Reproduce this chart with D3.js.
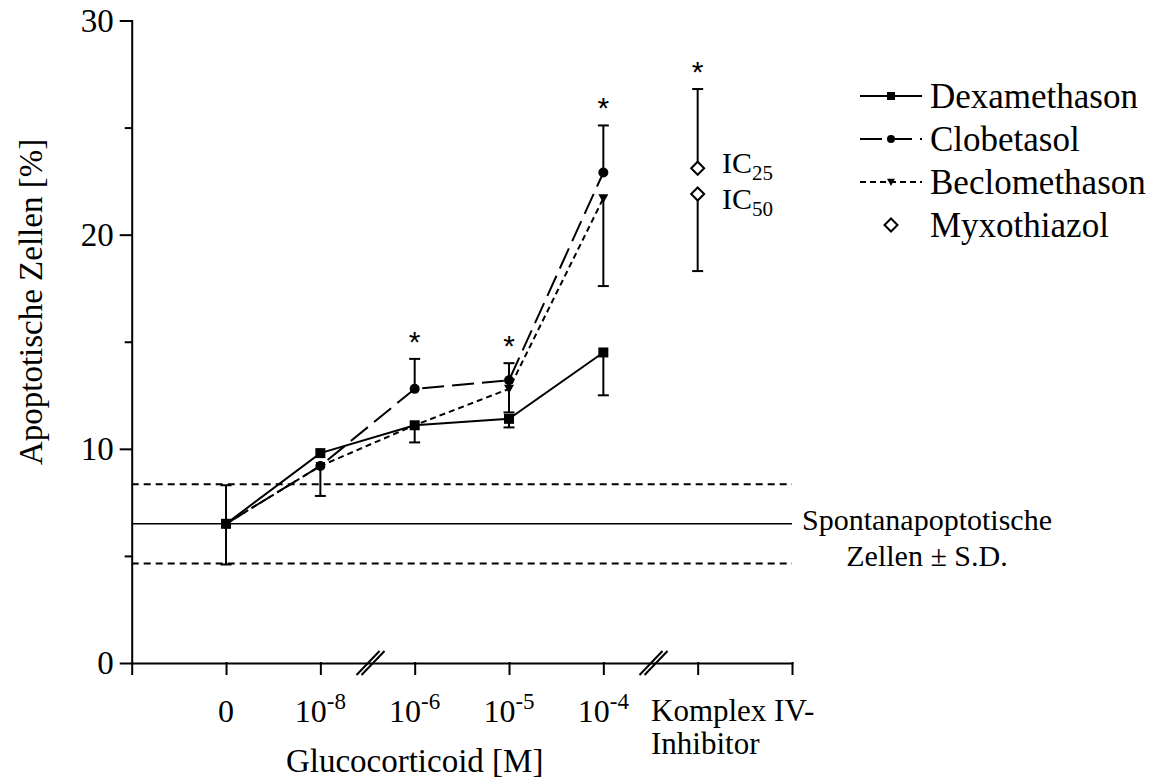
<!DOCTYPE html>
<html>
<head>
<meta charset="utf-8">
<script src="https://cdn.jsdelivr.net/npm/d3@7"></script>
<style>
  body { margin: 0; background: #fff; }
  text { font-family: "Liberation Serif", "Times New Roman", serif; fill: #000; }
</style>
</head>
<body>
<script>
// dose categories (x) and exponent labels
const doseBase = ["0", "10", "10", "10", "10"];
const doseExp = ["", "-8", "-6", "-5", "-4"];

// mean values, % apoptotic cells
const dexa = [6.5, 9.8, 11.1, 11.4, 14.5];
const clob = [6.5, 9.2, 12.8, 13.2, 22.9];
const beclo = [6.5, 9.2, 11.1, 12.8, 21.7];

// error bar ends (null = not drawn)
const dexaLow = [4.6, null, 10.3, 11.0, 12.5];
const dexaHigh = [8.3, null, null, null, null];
const clobHigh = [null, null, 14.2, 14.0, 25.1];
const becloLow = [null, 7.8, null, 11.7, 17.6];

// Myxothiazol (Komplex IV-Inhibitor)
const myxoLabels = ["25", "50"];
const myxoValues = [23.1, 21.9];
const myxoEnds = [26.8, 18.3];

// spontaneous apoptosis +- SD
const spont = 6.5;
const spontSD = 1.85;

// which dose indexes get a star (plus the inhibitor)
const starDoses = [2, 3, 4];

const yTicks = [0, 10, 20, 30];
const yMinor = [5, 15, 25];

const svg = d3.select("body").append("svg")
  .attr("width", 1157)
  .attr("height", 780);

const y = d3.scaleLinear().domain([0, 30]).range([663, 20.5]);
// slot 0 = axis start, 1..5 doses, 6 inhibitor, 7 axis end
const x = d3.scaleLinear().domain([0, 7]).range([131.7, 792]);

// axes
const yAxis = svg.append("g")
  .attr("transform", "translate(" + x(0) + ",0)")
  .call(d3.axisLeft(y).tickValues(yTicks).tickSize(11).tickSizeOuter(0).tickPadding(7));
svg.append("g")
  .attr("transform", "translate(" + x(0) + ",0)")
  .call(d3.axisLeft(y).tickValues(yMinor).tickSize(6).tickSizeOuter(0).tickFormat(""))
  .select(".domain").remove();
const xAxis = svg.append("g")
  .attr("transform", "translate(0," + y(0) + ")")
  .call(d3.axisBottom(x).tickValues(d3.range(0, 8)).tickSize(11).tickSizeOuter(0).tickFormat(""));

svg.selectAll(".domain, .tick line")
  .attr("stroke", "#000")
  .attr("stroke-width", 2)
  .attr("stroke-linecap", "square");
yAxis.selectAll(".tick text")
  .style("font-family", "Liberation Serif")
  .style("font-size", "33px");

// axis breaks
[2.5, 5.5].forEach(function(b) {
  const cx = x(b) + 3, cy = y(0);
  [-2.5, 2.5].forEach(function(dx) {
    svg.append("line")
      .attr("x1", cx + dx - 11.5).attr("y1", cy + 12)
      .attr("x2", cx + dx + 11.5).attr("y2", cy - 12)
      .attr("stroke", "#000").attr("stroke-width", 2);
  });
});

// x tick labels
doseBase.forEach(function(b, i) {
  const t = svg.append("text")
    .attr("x", x(i + 1))
    .attr("y", 722)
    .attr("text-anchor", "middle")
    .style("font-size", "32px");
  t.append("tspan").text(b);
  if (doseExp[i]) {
    t.append("tspan").attr("dy", -13).style("font-size", "23px").text(doseExp[i]);
  }
});
svg.append("text").attr("x", 651).attr("y", 721).style("font-size", "31px").text("Komplex IV-");
svg.append("text").attr("x", 651).attr("y", 754).style("font-size", "31px").text("Inhibitor");

// axis titles
svg.append("text")
  .attr("x", (x(1) + x(5)) / 2)
  .attr("y", 772)
  .attr("text-anchor", "middle")
  .style("font-size", "33px")
  .text("Glucocorticoid [M]");
svg.append("text")
  .attr("transform", "translate(42," + 302 + ") rotate(-90)")
  .attr("text-anchor", "middle")
  .style("font-size", "33px")
  .text("Apoptotische Zellen [%]");

// spontaneous apoptosis lines
svg.append("line")
  .attr("x1", x(0)).attr("x2", x(7))
  .attr("y1", y(spont)).attr("y2", y(spont))
  .attr("stroke", "#000").attr("stroke-width", 1.6);
[spont - spontSD, spont + spontSD].forEach(function(v) {
  svg.append("line")
    .attr("x1", x(0)).attr("x2", x(7))
    .attr("y1", y(v)).attr("y2", y(v))
    .attr("stroke", "#000").attr("stroke-width", 2)
    .attr("stroke-dasharray", "7,5");
});
svg.append("text").attr("x", 927).attr("y", 530).attr("text-anchor", "middle")
  .style("font-size", "30px").text("Spontanapoptotische");
svg.append("text").attr("x", 927).attr("y", 566).attr("text-anchor", "middle")
  .style("font-size", "30px").text("Zellen \u00b1 S.D.");

// error bars
function errBar(xi, from, to) {
  const g = svg.append("g").attr("stroke", "#000").attr("stroke-width", 2);
  g.append("line").attr("x1", x(xi)).attr("x2", x(xi)).attr("y1", y(from)).attr("y2", y(to));
  g.append("line").attr("x1", x(xi) - 5.5).attr("x2", x(xi) + 5.5).attr("y1", y(to)).attr("y2", y(to));
}
dexa.forEach(function(v, i) {
  if (dexaLow[i] != null) errBar(i + 1, v, dexaLow[i]);
  if (dexaHigh[i] != null) errBar(i + 1, v, dexaHigh[i]);
});
clob.forEach(function(v, i) { if (clobHigh[i] != null) errBar(i + 1, v, clobHigh[i]); });
beclo.forEach(function(v, i) { if (becloLow[i] != null) errBar(i + 1, v, becloLow[i]); });
myxoValues.forEach(function(v, i) { errBar(6, v, myxoEnds[i]); });

// series
const line = d3.line().x(function(d, i) { return x(i + 1); }).y(function(d) { return y(d); });
const series = [
  { name: "Dexamethason", values: dexa, dash: null, shape: "square" },
  { name: "Clobetasol", values: clob, dash: "22,8", shape: "circle" },
  { name: "Beclomethason", values: beclo, dash: "6,4", shape: "triangle" }
];

function marker(g, shape, cx, cy, s) {
  if (shape === "square") {
    g.append("rect").attr("x", cx - s / 2).attr("y", cy - s / 2).attr("width", s).attr("height", s).attr("fill", "#000");
  } else if (shape === "circle") {
    g.append("circle").attr("cx", cx).attr("cy", cy).attr("r", s / 2).attr("fill", "#000");
  } else if (shape === "triangle") {
    g.append("path").attr("d", "M" + (cx - s / 2) + "," + (cy - s * 0.4) + "L" + (cx + s / 2) + "," + (cy - s * 0.4) + "L" + cx + "," + (cy + s * 0.5) + "Z").attr("fill", "#000");
  } else if (shape === "diamond") {
    const r = s / 2;
    g.append("path").attr("d", "M" + cx + "," + (cy - r) + "L" + (cx + r) + "," + cy + "L" + cx + "," + (cy + r) + "L" + (cx - r) + "," + cy + "Z")
      .attr("fill", "#fff").attr("stroke", "#000").attr("stroke-width", 2);
  }
}

series.slice().reverse().forEach(function(s) {
  svg.append("path")
    .datum(s.values)
    .attr("d", line)
    .attr("fill", "none")
    .attr("stroke", "#000")
    .attr("stroke-width", 2)
    .attr("stroke-dasharray", s.dash);
});
series.slice().reverse().forEach(function(s) {
  const g = svg.append("g");
  s.values.forEach(function(v, i) { marker(g, s.shape, x(i + 1), y(v), 10); });
});

// Myxothiazol diamonds + labels
myxoValues.forEach(function(v, i) {
  marker(svg, "diamond", x(6), y(v), 13);
  const t = svg.append("text")
    .attr("x", 722)
    .attr("y", y(v) + (i === 0 ? 5 : 15))
    .style("font-size", "30px");
  t.append("tspan").text("IC");
  t.append("tspan").attr("dy", 7).style("font-size", "21px").text(myxoLabels[i]);
});

// significance stars
const starTops = starDoses.map(function(i) {
  return { xi: i + 1, top: d3.max([dexa[i], clob[i], beclo[i], clobHigh[i], dexaHigh[i]].filter(function(d) { return d != null; })) };
});
starTops.push({ xi: 6, top: d3.max(myxoEnds) });
starTops.forEach(function(s) {
  svg.append("text")
    .attr("x", x(s.xi))
    .attr("y", y(s.top) - 24 + 17)
    .attr("text-anchor", "middle")
    .style("font-family", "Liberation Sans")
    .style("font-size", "30px")
    .text("*");
});

// legend
const legendRows = [96, 139, 182, 225];
series.forEach(function(s, i) {
  const g = svg.append("g");
  g.append("line")
    .attr("x1", 860).attr("x2", 922)
    .attr("y1", legendRows[i]).attr("y2", legendRows[i])
    .attr("stroke", "#000").attr("stroke-width", 2)
    .attr("stroke-dasharray", s.dash);
  marker(g, s.shape, 891, legendRows[i], 8);
  g.append("text").attr("x", 930).attr("y", legendRows[i] + 12).style("font-size", "35px").text(s.name);
});
marker(svg, "diamond", 891, legendRows[3], 13);
svg.append("text").attr("x", 930).attr("y", legendRows[3] + 12).style("font-size", "35px").text("Myxothiazol");
</script>
</body>
</html>
